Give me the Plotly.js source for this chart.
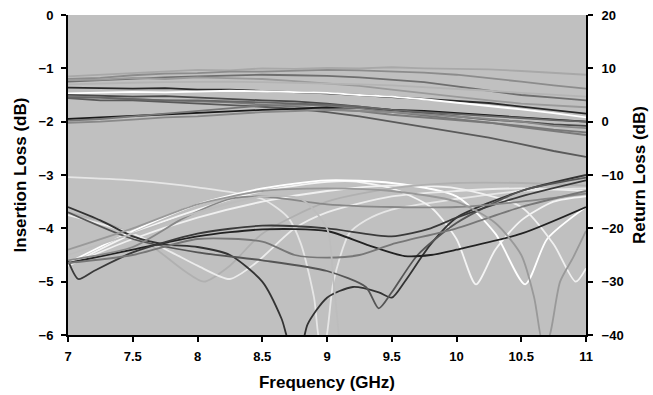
<!DOCTYPE html>
<html><head><meta charset="utf-8">
<script src="https://cdn.plot.ly/plotly-3.0.1.min.js"></script>
<style>html,body{margin:0;padding:0;background:#fff}#chart{width:653px;height:395px}</style>
</head><body><div id="chart"></div>
<script>
// Frequency grid for insertion loss traces (GHz)
const freqIL = [7,7.25,7.5,7.75,8,8.25,8.5,8.75,9,9.25,9.5,9.75,10,10.25,10.5,10.75,11];

// Insertion loss (dB), left axis
const il1  = [-1.15,-1.12,-1.08,-1.06,-1.03,-1.04,-1.0,-1.01,-0.99,-1.0,-0.98,-1.0,-1.01,-1.02,-1.05,-1.08,-1.12];
const il2  = [-1.2,-1.18,-1.13,-1.1,-1.09,-1.06,-1.06,-1.04,-1.03,-1.04,-1.06,-1.08,-1.12,-1.18,-1.25,-1.32,-1.38];
const il3  = [-1.25,-1.22,-1.2,-1.17,-1.15,-1.14,-1.12,-1.13,-1.14,-1.17,-1.21,-1.26,-1.34,-1.42,-1.5,-1.55,-1.6];
const il4  = [-1.22,-1.21,-1.18,-1.2,-1.17,-1.19,-1.2,-1.24,-1.28,-1.33,-1.4,-1.47,-1.54,-1.6,-1.66,-1.7,-1.73];
const il5  = [-1.36,-1.37,-1.38,-1.37,-1.4,-1.4,-1.42,-1.44,-1.47,-1.5,-1.54,-1.58,-1.61,-1.65,-1.72,-1.78,-1.85];
const il6  = [-1.47,-1.46,-1.44,-1.45,-1.43,-1.42,-1.43,-1.45,-1.46,-1.5,-1.53,-1.58,-1.64,-1.7,-1.77,-1.84,-1.92];
const il7  = [-1.5,-1.51,-1.53,-1.52,-1.55,-1.57,-1.6,-1.62,-1.66,-1.72,-1.78,-1.85,-1.9,-1.96,-2.0,-2.05,-2.08];
const il8  = [-1.52,-1.55,-1.58,-1.6,-1.62,-1.64,-1.68,-1.72,-1.75,-1.8,-1.87,-1.92,-1.97,-2.02,-2.1,-2.18,-2.25];
const il9  = [-1.56,-1.6,-1.6,-1.63,-1.66,-1.68,-1.72,-1.76,-1.82,-1.9,-2.0,-2.1,-2.2,-2.3,-2.42,-2.55,-2.66];
const il10 = [-1.95,-1.92,-1.9,-1.86,-1.84,-1.8,-1.78,-1.76,-1.73,-1.74,-1.78,-1.8,-1.84,-1.88,-1.92,-1.95,-2.0];
const il11 = [-1.98,-1.95,-1.9,-1.85,-1.8,-1.75,-1.7,-1.68,-1.7,-1.75,-1.82,-1.88,-1.95,-2.02,-2.08,-2.15,-2.2];
const il12 = [-2.02,-2.0,-1.96,-1.92,-1.9,-1.86,-1.82,-1.8,-1.78,-1.8,-1.82,-1.86,-1.9,-1.95,-2.0,-2.08,-2.12];
const il13 = [-1.3,-1.28,-1.27,-1.26,-1.25,-1.25,-1.26,-1.27,-1.28,-1.3,-1.32,-1.35,-1.38,-1.42,-1.46,-1.5,-1.53];
const il14 = [-1.55,-1.55,-1.58,-1.6,-1.6,-1.62,-1.63,-1.65,-1.68,-1.72,-1.78,-1.82,-1.86,-1.9,-1.93,-1.97,-2.0];
const ilSeries = [il1,il2,il3,il4,il5,il6,il7,il8,il9,il10,il11,il12,il13,il14];
const ilColors = ['#a8a8a8','#8c8c8c','#6e6e6e','#9a9a9a','#2a2a2a','#ffffff','#4a4a4a','#7a7a7a','#5a5a5a','#1a1a1a','#777777','#888888','#b4b4b4','#666666'];

// Return loss (dB), right axis; each trace with its own frequency points
const rl1x = [7,7.5,8,8.5,8.7,8.8,8.9,8.95,8.98,9.05,9.17,9.3,9.5,10,10.5,11];
const rl1y = [-10.4,-11,-12.3,-14.5,-18,-23,-33,-42,-42,-30,-21,-18.5,-16.5,-14.5,-13,-12.5];
const rl2x = [7,7.5,8,8.5,9,9.2,9.5,9.8,10,10.15,10.3,10.5,10.75,11];
const rl2y = [-27,-21,-16.5,-13,-11.3,-11.2,-12.5,-16,-22,-30.5,-24,-18.5,-15,-14];
const rl3x = [7,7.5,8,8.5,9,9.5,10,10.3,10.53,10.7,11];
const rl3y = [-26.5,-20.5,-15.5,-12.5,-11,-11.5,-14,-21,-30.5,-22,-16];
const rl4x = [7,7.5,8,8.5,9,9.5,10,10.5,10.75,10.92,11];
const rl4y = [-27,-22,-18,-15,-13,-12,-12.5,-16,-23,-30,-27.5];
const rl5x = [7,7.3,7.6,7.9,8.05,8.25,8.5,9,9.5,10,10.5,11];
const rl5y = [-17,-19,-22.5,-28,-30,-27,-21,-15,-12.5,-11.5,-11.5,-12];
const rl6x = [7,7.5,7.8,8,8.25,8.45,8.75,9,9.5,10,10.5,11];
const rl6y = [-17.5,-21,-24.5,-27,-29.5,-26.5,-20,-17,-14,-13,-12.5,-13];
const rl7x = [7,7.25,7.5,7.75,8,8.25,8.5,8.65,8.72,8.8,8.85,9,9.2,9.4,9.5,9.6,9.8,10,10.5,11];
const rl7y = [-16,-18.5,-21.5,-23,-23.5,-25,-30,-37,-42,-42,-38,-33,-31,-32,-33,-30,-23,-18,-13,-10];
const rl8x = [7,7.5,8,8.5,9,9.3,9.4,9.5,9.7,10,10.5,11];
const rl8y = [-17,-22,-24.5,-26,-28,-31,-35,-32,-25,-19,-13,-10.5];
const rl9x = [7,7.5,8,8.5,9,9.3,9.6,9.8,10,10.5,11];
const rl9y = [-26.5,-24,-21.5,-20.2,-20.5,-23,-25.2,-25,-24,-21,-16];
const rl10x = [7,7.08,7.2,7.5,8,8.5,9,9.5,9.8,10,10.5,11];
const rl10y = [-26,-29.5,-28,-24.5,-21,-19.5,-20,-21.5,-20,-18,-14,-11];
const rl11x = [7,7.5,7.9,8.25,8.5,9,9.5,10,10.5,11];
const rl11y = [-26,-23.5,-18,-14.5,-14,-15.5,-16,-16,-15,-13.5];
const rl12x = [7,7.5,8,8.5,8.75,9,9.25,9.5,10,10.5,11];
const rl12y = [-26.5,-25,-22,-22.5,-25,-25.5,-25,-23,-20,-16,-13];
const rl13x = [7,7.5,8,8.5,9,9.5,10,10.3,10.5,10.6,10.67,10.72,10.8,10.9,11];
const rl13y = [-24,-20,-15.5,-13,-12.5,-13,-15,-19,-25,-33,-42,-40,-30,-25.5,-20.5];
const rl14x = [7,7.5,8,8.5,8.8,9,9.05,9.1];
const rl14y = [-25,-21,-17,-14,-14.5,-20,-30,-42];
const rlX = [rl1x,rl2x,rl3x,rl4x,rl5x,rl6x,rl7x,rl8x,rl9x,rl10x,rl11x,rl12x,rl13x,rl14x];
const rlY = [rl1y,rl2y,rl3y,rl4y,rl5y,rl6y,rl7y,rl8y,rl9y,rl10y,rl11y,rl12y,rl13y,rl14y];
const rlColors = ['#e6e6e6','#f4f4f4','#ffffff','#f0f0f0','#b0b0b0','#ececec','#333333','#555555','#222222','#3a3a3a','#888888','#777777','#999999','#bdbdbd'];

const traces = [];
rlX.forEach((xs,i)=>traces.push({x:xs,y:rlY[i],yaxis:'y2',type:'scatter',mode:'lines',
  line:{color:rlColors[i],width:1.8,shape:'spline',smoothing:0.7},hoverinfo:'skip'}));
ilSeries.forEach((ys,i)=>traces.push({x:freqIL,y:ys,type:'scatter',mode:'lines',
  line:{color:ilColors[i],width:1.8},hoverinfo:'skip'}));

const fam = 'Liberation Sans, Arial, sans-serif';
const tickFont = {family:fam,size:13,color:'#000',weight:'bold'};
const titleFont = {family:fam,size:17,color:'#000',weight:'bold'};
const axisCommon = {showgrid:false,zeroline:false,showline:true,linecolor:'#000',linewidth:2,
  ticks:'outside',ticklen:5,tickwidth:2,tickcolor:'#000',tickfont:tickFont};
const layout = {
  width:653,height:395,showlegend:false,
  margin:{l:68,r:67,t:15,b:60},
  paper_bgcolor:'#ffffff',plot_bgcolor:'#c0c0c0',
  font:{family:fam},
  xaxis:Object.assign({},axisCommon,{range:[7,11],dtick:0.5,tick0:7,ticklabelstandoff:3,
    title:{text:'Frequency (GHz)',font:titleFont,standoff:14}}),
  yaxis:Object.assign({},axisCommon,{range:[-6,0],dtick:1,ticklabelstandoff:5,
    title:{text:'Insertion Loss (dB)',font:titleFont,standoff:8}}),
  yaxis2:Object.assign({},axisCommon,{range:[-40,20],dtick:10,overlaying:'y',side:'right',ticklabelstandoff:6,
    title:{text:'Return Loss (dB)',font:titleFont,standoff:10}})
};
Plotly.newPlot('chart',traces,layout,{staticPlot:true,displayModeBar:false});
</script></body></html>
